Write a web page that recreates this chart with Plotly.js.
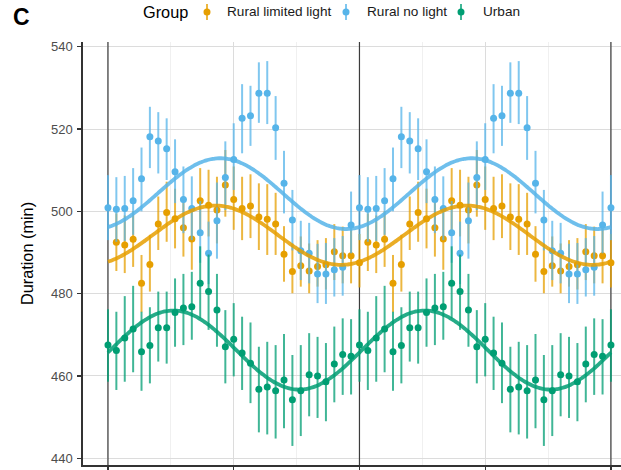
<!DOCTYPE html>
<html>
<head>
<meta charset="utf-8">
<script src="https://cdn.plot.ly/plotly-3.0.1.min.js"></script>
<style>
  html, body { margin: 0; padding: 0; background: #ffffff; overflow: hidden; }
  #chart { width: 621px; height: 470px; }
</style>
</head>
<body>
<div id="chart"></div>
<script>
// Bin position within one seasonal cycle (30 bins); the cycle is shown twice.
const cyclePositions = [0, 1, 2, 3, 4, 5, 6, 7, 8, 9, 10, 11, 12, 13, 14,
                        15, 16, 17, 18, 19, 20, 21, 22, 23, 24, 25, 26, 27, 28, 29];
const cycleLength = 30;
const cyclesShown = 2;

const groupNames = ['Rural limited light', 'Rural no light', 'Urban'];
const groupColors = ['#E69F00', '#56B4E9', '#009E73'];

// Rural limited light: mean sleep duration and 95% CI per bin (min)
const ruralLimitedMean = [487.5, 492.5, 491.8, 493.2, 482.5, 487.1, 496.9, 499.7, 498.2, 496.0,
                          493.3, 502.6, 501.5, 500.3, 506.4, 502.9, 500.7, 501.3, 498.6, 498.1,
                          496.9, 489.6, 485.4, 486.8, 485.5, 486.6, 487.0, 490.2, 489.2, 489.2];
const ruralLimitedLow  = [481.5, 485.5, 485.0, 486.5, 475.5, 480.5, 490.6, 492.6, 491.0, 489.0,
                          485.8, 494.7, 493.9, 492.2, 498.7, 495.5, 493.0, 493.5, 490.6, 489.4,
                          489.4, 482.9, 480.1, 481.7, 480.1, 481.7, 481.0, 483.3, 482.5, 482.5];
const ruralLimitedHigh = [494.5, 499.5, 499.0, 500.0, 489.4, 494.3, 503.6, 507.2, 505.5, 503.6,
                          500.3, 510.5, 510.1, 508.4, 514.9, 510.9, 508.4, 509.0, 506.8, 506.6,
                          504.5, 496.4, 492.2, 493.9, 492.2, 493.0, 493.5, 496.9, 496.3, 496.5];

// Rural no light
const ruralNoneMean = [500.9, 500.5, 500.7, 502.6, 507.9, 518.1, 517.1, 515.2, 509.6, 502.9,
                       500.7, 494.8, 489.8, 497.7, 508.2, 512.6, 522.6, 523.2, 528.7, 528.7,
                       520.3, 506.8, 497.9, 490.4, 489.8, 484.8, 484.8, 485.8, 486.4, 496.7];
const ruralNoneLow  = [493.0, 492.6, 492.8, 494.3, 500.0, 510.5, 509.2, 507.6, 502.0, 494.7,
                       493.0, 487.5, 482.3, 488.5, 500.3, 505.2, 514.1, 515.9, 521.5, 521.2,
                       512.5, 499.5, 490.5, 483.3, 482.5, 477.7, 477.5, 479.3, 479.5, 489.8];
const ruralNoneHigh = [508.8, 508.3, 508.6, 510.5, 515.5, 525.4, 524.1, 522.6, 517.5, 510.9,
                       508.5, 502.5, 497.5, 507.0, 517.0, 521.4, 530.9, 530.5, 536.2, 536.5,
                       528.0, 514.7, 505.2, 497.7, 497.2, 492.1, 492.3, 493.5, 494.0, 504.8];

// Urban
const urbanMean = [467.5, 466.2, 469.2, 471.4, 465.9, 467.4, 471.7, 471.7, 475.4, 476.5,
                   476.8, 482.5, 480.5, 476.0, 467.1, 468.9, 465.6, 463.1, 456.8, 457.3,
                   456.4, 459.0, 454.2, 456.4, 460.3, 460.0, 458.6, 462.9, 465.2, 464.8];
const urbanLow  = [458.6, 456.6, 458.6, 460.9, 456.4, 458.2, 463.5, 463.0, 467.1, 467.5,
                   468.8, 474.0, 471.2, 467.1, 458.2, 459.9, 456.6, 453.4, 446.3, 445.8,
                   444.8, 447.3, 443.0, 445.4, 450.2, 449.8, 449.0, 453.6, 455.4, 455.5];
const urbanHigh = [476.2, 475.6, 479.4, 481.9, 475.6, 476.7, 480.5, 480.5, 483.7, 484.8,
                   485.3, 491.5, 489.5, 484.8, 476.0, 477.7, 474.4, 473.0, 467.1, 468.3,
                   467.5, 470.2, 465.1, 467.5, 470.4, 469.5, 468.0, 472.0, 474.0, 473.8];

// First bin drawn for each group (the limited-light series starts one bin in)
const seriesStart = [1, 0, 0];

// Cosinor fit per group: mesor (min), amplitude (min), peak position (bin)
const fitMesor = [494.2, 504.3, 466.3];
const fitAmplitude = [7.2, 8.6, 9.6];
const fitPeak = [12.8, 13.4, 7.8];

const yTicks = [440, 460, 480, 500, 520, 540];
const xTicks = [0, 15, 30, 45, 60];
const xMinorTicks = [7.5, 22.5, 37.5, 52.5];

const groupMeans = [ruralLimitedMean, ruralNoneMean, urbanMean];
const groupLows = [ruralLimitedLow, ruralNoneLow, urbanLow];
const groupHighs = [ruralLimitedHigh, ruralNoneHigh, urbanHigh];

function rgba(hex, a) {
  const n = parseInt(hex.slice(1), 16);
  return 'rgba(' + ((n >> 16) & 255) + ',' + ((n >> 8) & 255) + ',' + (n & 255) + ',' + a + ')';
}

// Lay the cycle out twice and close it with the first bin at the end.
function unrollCycle(mean, low, high, start) {
  const x = [], y = [], plus = [], minus = [];
  const push = (pos, i) => {
    x.push(pos); y.push(mean[i]);
    plus.push(high[i] - mean[i]); minus.push(mean[i] - low[i]);
  };
  for (let c = 0; c < cyclesShown; c++) {
    cyclePositions.forEach((p, i) => {
      const pos = c * cycleLength + p;
      if (pos >= start) push(pos, i);
    });
  }
  push(cyclesShown * cycleLength, 0);
  return { x, y, plus, minus };
}

const pointTraces = groupNames.map((name, g) => {
  const s = unrollCycle(groupMeans[g], groupLows[g], groupHighs[g], seriesStart[g]);
  return {
    type: 'scatter', mode: 'markers', name: name, showlegend: false,
    x: s.x, y: s.y,
    marker: { color: groupColors[g], size: 7, line: { width: 0 } },
    error_y: { type: 'data', symmetric: false, array: s.plus, arrayminus: s.minus,
               width: 0, thickness: 2, color: rgba(groupColors[g], 0.75) },
    hoverinfo: 'x+y+name'
  };
});

const fitTraces = groupNames.map((name, g) => {
  const x = [], y = [];
  const end = cyclesShown * cycleLength;
  for (let k = 0; k <= end * 4; k++) {
    const t = k / 4;
    x.push(t);
    y.push(fitMesor[g] + fitAmplitude[g] * Math.cos(2 * Math.PI * (t - fitPeak[g]) / cycleLength));
  }
  return {
    type: 'scatter', mode: 'lines', name: name + ' fit', showlegend: false,
    x: x, y: y, line: { color: rgba(groupColors[g], 0.85), width: 3.8, shape: 'spline' },
    hoverinfo: 'skip'
  };
});

// Plot area in pixels
const M = { l: 83, r: 0, t: 42, b: 5 };
const W = 621, H = 470;
const pw = W - M.l - M.r, ph = H - M.t - M.b;
const px = v => (v - M.l) / pw;
const py = v => (H - M.b - v) / ph;

const xRange = [-2.98, 61.2];
const yRange = [438.37, 541.14];

const FONT = 'Liberation Sans, Arial, Helvetica, sans-serif';

// Cycle boundaries (drawn above the grid, below the data)
const shapes = [];
for (let c = 0; c <= cyclesShown; c++) {
  shapes.push({ type: 'line', xref: 'x', yref: 'y', x0: c * cycleLength, x1: c * cycleLength,
                y0: yRange[0], y1: yRange[1], layer: 'between', line: { color: '#3c3c3c', width: 1.2 } });
}

// Legend keys (point with range) and labels
const annotations = [
  { text: '<b>C</b>', xref: 'paper', yref: 'paper', x: px(11), y: py(17), xanchor: 'left', yanchor: 'middle',
    showarrow: false, font: { family: FONT, size: 23, color: '#000' } },
  { text: 'Group', xref: 'paper', yref: 'paper', x: px(141), y: py(12), xanchor: 'left', yanchor: 'middle',
    showarrow: false, font: { family: FONT, size: 16.3, color: '#000' } }
];
const keyX = [207, 346, 461];
const labelX = [225, 365, 481];
groupNames.forEach((name, g) => {
  shapes.push({ type: 'line', xref: 'paper', yref: 'paper', x0: px(keyX[g]), x1: px(keyX[g]),
                y0: py(4), y1: py(20), line: { color: rgba(groupColors[g], 0.75), width: 2 } });
  shapes.push({ type: 'circle', xref: 'paper', yref: 'paper', xsizemode: 'pixel', ysizemode: 'pixel',
                xanchor: px(keyX[g]), yanchor: py(12), x0: -3.5, x1: 3.5, y0: -3.5, y1: 3.5,
                fillcolor: groupColors[g], line: { width: 0 } });
  annotations.push({ text: name, xref: 'paper', yref: 'paper', x: px(labelX[g]), y: py(12),
                     xanchor: 'left', yanchor: 'middle', showarrow: false,
                     font: { family: FONT, size: 13.6, color: '#1a1a1a' } });
});

const layout = {
  width: W, height: H, margin: M,
  paper_bgcolor: '#ffffff', plot_bgcolor: '#ffffff',
  font: { family: FONT, size: 13, color: '#1a1a1a' },
  showlegend: false,
  xaxis: {
    range: xRange, tickmode: 'array', tickvals: xTicks, showticklabels: false,
    ticks: 'outside', ticklen: 5, tickwidth: 1.2, tickcolor: '#333333',
    showline: true, linecolor: '#333333', linewidth: 1.6,
    showgrid: true, gridcolor: '#dcdcdc', gridwidth: 1, zeroline: false,
    minor: { tickmode: 'array', tickvals: xMinorTicks, ticks: '', showgrid: true,
             gridcolor: '#ececec', gridwidth: 0.8 }
  },
  yaxis: {
    range: yRange, tickmode: 'array', tickvals: yTicks,
    ticks: 'outside', ticklen: 4, tickwidth: 1.2, tickcolor: '#333333',
    ticklabelstandoff: 2,
    tickfont: { family: FONT, size: 13, color: '#4d4d4d' },
    showline: true, linecolor: '#333333', linewidth: 1.6,
    showgrid: true, gridcolor: '#dcdcdc', gridwidth: 1, zeroline: false,
    title: { text: 'Duration (min)', font: { family: FONT, size: 16.3, color: '#000' }, standoff: 13 }
  },
  shapes: shapes,
  annotations: annotations
};

Plotly.newPlot('chart', pointTraces.concat(fitTraces), layout, { staticPlot: true, displayModeBar: false });
</script>
</body>
</html>
